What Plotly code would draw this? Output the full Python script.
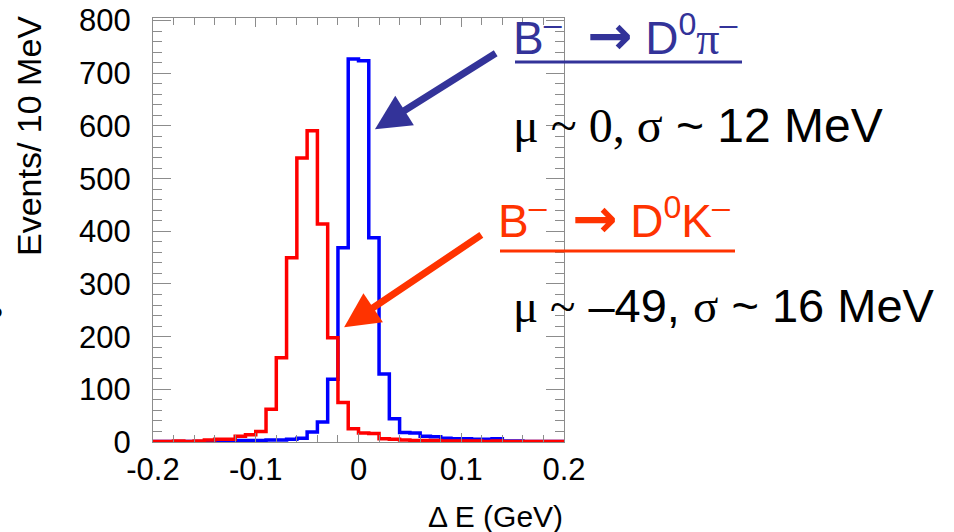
import plotly.graph_objects as go

# ---- data (10 MeV bins from -0.2 to 0.2 GeV) ----
bin_lo = -0.2
bin_w = 0.01
blue_counts = [1, 1, 1, 1, 1, 1, 1, 1,
               3, 3, 3, 4, 4, 5, 7, 19, 38, 119, 369, 727,
               724, 388, 129, 44, 18, 17, 11, 10, 7, 6,
               6, 5, 5, 6, 2, 2, 1, 1, 1, 1]
red_counts = [1, 1, 2, 1, 2, 4, 5, 5,
              11, 14, 20, 62, 160, 350, 539, 591, 414, 198, 75, 25,
              17, 16, 6, 5, 4, 3, 3, 3, 2, 2,
              2, 2, 1, 2, 1, 1, 1, 1, 1, 1]
x_tickvals = [-0.2, -0.1, 0, 0.1, 0.2]
x_ticktext = ["-0.2", "-0.1", "0", "0.1", "0.2"]
y_tickvals = [0, 100, 200, 300, 400, 500, 600, 700, 800]

edges = [bin_lo + bin_w * i for i in range(len(blue_counts) + 1)]

SANS = "Liberation Sans, Arial, sans-serif"
SERIF = "Liberation Serif"
BLUE_TXT = "#333399"
RED_TXT = "#FF3300"

fig = go.Figure()
fig.add_trace(go.Scatter(x=edges, y=blue_counts + [blue_counts[-1]], mode="lines",
                         line=dict(shape="hv", color="#0000FF", width=3.5),
                         showlegend=False, hoverinfo="skip"))
fig.add_trace(go.Scatter(x=edges, y=red_counts + [red_counts[-1]], mode="lines",
                         line=dict(shape="hv", color="#FF0000", width=3.5),
                         showlegend=False, hoverinfo="skip"))

axcol = "#8c8c8c"
fig.update_xaxes(range=[-0.2, 0.2], tickvals=x_tickvals, ticktext=x_ticktext,
                 showline=True, linecolor=axcol, linewidth=1, mirror="allticks",
                 ticks="inside", ticklen=9, tickcolor=axcol, tickwidth=1,
                 minor=dict(dtick=0.02, ticks="inside", ticklen=7, tickcolor=axcol, showgrid=False),
                 showgrid=False, zeroline=False, automargin=False,
                 tickfont=dict(family=SANS, size=31, color="black"), ticklabelstandoff=0)
fig.update_yaxes(range=[0, 805], tickvals=y_tickvals,
                 showline=True, linecolor=axcol, linewidth=1, mirror="allticks",
                 ticks="inside", ticklen=18, tickcolor=axcol, tickwidth=1,
                 minor=dict(dtick=20, ticks="inside", ticklen=9, tickcolor=axcol, showgrid=False),
                 showgrid=False, zeroline=False, automargin=False,
                 tickfont=dict(family=SANS, size=31, color="black"), ticklabelstandoff=15)

def px_x(p):
    return (p - 153) / 411.0

def px_y(p):
    return (442 - p) / 424.0

NB = "\u00a0"
ARROW = "<span style='font-family:DejaVu Sans;font-weight:bold;font-size:54px'>→</span>"

ann = []
# axis titles
ann.append(dict(text="Events/ 10 MeV", textangle=-90, xref="paper", yref="paper",
                x=px_x(29), y=px_y(136), xanchor="center", yanchor="middle",
                showarrow=False, font=dict(family=SANS, size=34, color="black")))
ann.append(dict(text="Δ E (GeV)", xref="paper", yref="paper",
                x=px_x(565), y=px_y(516), xanchor="right", yanchor="middle",
                showarrow=False, font=dict(family=SANS, size=30, color="black")))
# partial glyph at left edge
ann.append(dict(text="?", xref="paper", yref="paper", x=px_x(5), y=px_y(316),
                xanchor="right", yanchor="middle", showarrow=False,
                font=dict(family=SANS, size=30, color="black")))
# labels
ann.append(dict(text="B<sup>–</sup>" + NB * 2 + ARROW + NB + "D<sup>0</sup><span style='font-family:%s'>π</span><sup>–</sup>" % SERIF,
                xref="paper", yref="paper", x=px_x(511), y=px_y(35),
                xanchor="left", yanchor="middle", showarrow=False,
                font=dict(family=SANS, size=46, color=BLUE_TXT)))
ann.append(dict(text="<span style='font-family:%s'>μ ~ 0, σ</span> ~ 12 MeV" % SERIF,
                xref="paper", yref="paper", x=px_x(511), y=px_y(125),
                xanchor="left", yanchor="middle", showarrow=False,
                font=dict(family=SANS, size=48, color="black")))
ann.append(dict(text="B<sup>–</sup>" + NB * 2 + ARROW + NB + "D<sup>0</sup>K<sup>–</sup>",
                xref="paper", yref="paper", x=px_x(496), y=px_y(218),
                xanchor="left", yanchor="middle", showarrow=False,
                font=dict(family=SANS, size=46, color=RED_TXT)))
ann.append(dict(text="<span style='font-family:%s'>μ ~</span> –49, <span style='font-family:%s'>σ</span> ~ 16 MeV" % (SERIF, SERIF),
                xref="paper", yref="paper", x=px_x(511), y=px_y(305),
                xanchor="left", yanchor="middle", showarrow=False,
                font=dict(family=SANS, size=47, color="black")))
# arrows
ann.append(dict(text="", x=0.016, y=594, ax=0.135, ay=740, xref="x", yref="y",
                axref="x", ayref="y", showarrow=True, arrowhead=2, arrowsize=1,
                arrowwidth=7, arrowcolor=BLUE_TXT, standoff=0, startstandoff=0))
ann.append(dict(text="", x=-0.014, y=218, ax=0.121, ay=395, xref="x", yref="y",
                axref="x", ayref="y", showarrow=True, arrowhead=2, arrowsize=1,
                arrowwidth=7, arrowcolor=RED_TXT, standoff=0, startstandoff=0))

# underlines of the two decay labels
shapes = [
    dict(type="line", xref="paper", yref="paper", x0=px_x(515), x1=px_x(742),
         y0=px_y(62), y1=px_y(62), line=dict(color=BLUE_TXT, width=3)),
    dict(type="line", xref="paper", yref="paper", x0=px_x(500), x1=px_x(735),
         y0=px_y(251), y1=px_y(251), line=dict(color=RED_TXT, width=3)),
]

fig.update_layout(width=954, height=532, margin=dict(l=153, r=390, t=18, b=90),
                  paper_bgcolor="white", plot_bgcolor="white",
                  font=dict(family=SANS, color="black"), annotations=ann,
                  shapes=shapes, showlegend=False)

fig.write_html("out.html", config={"displayModeBar": False},
               post_script="document.body.style.margin='0';document.body.style.padding='0';")
